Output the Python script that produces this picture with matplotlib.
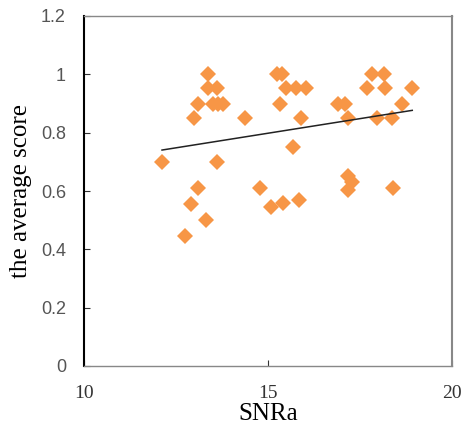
import numpy as np
import matplotlib
matplotlib.use("Agg")
import matplotlib.pyplot as plt

# SNRa vs average score
snra = [12.12, 12.75, 12.92, 13.00, 13.10, 13.11, 13.32, 13.38, 13.36, 13.50,
        13.62, 13.61, 13.65, 13.79, 14.38, 14.79, 15.08, 15.24, 15.38, 15.32,
        15.40, 15.49, 15.67, 15.76, 15.85, 15.91, 16.03, 16.90, 17.09, 17.18,
        17.18, 17.18, 17.29, 17.68, 17.83, 17.95, 18.15, 18.18, 18.38, 18.39,
        18.63, 18.92]
score = [0.70, 0.445, 0.554, 0.852, 0.61, 0.90, 0.499, 1.00, 0.952, 0.90,
         0.952, 0.70, 0.90, 0.90, 0.852, 0.61, 0.545, 1.00, 1.00, 0.90,
         0.56, 0.952, 0.751, 0.952, 0.57, 0.852, 0.952, 0.90, 0.90, 0.852,
         0.651, 0.605, 0.63, 0.952, 1.00, 0.852, 1.00, 0.952, 0.852, 0.61,
         0.90, 0.952]

x_ticks = [10, 15, 20]
y_ticks = [0, 0.2, 0.4, 0.6, 0.8, 1, 1.2]
y_tick_labels = ["0", "0.2", "0.4", "0.6", "0.8", "1", "1.2"]

fig = plt.figure(figsize=(4.63, 4.28), dpi=100)
ax = fig.add_axes([84 / 463, 62 / 428, (452 - 84) / 463, (366 - 16) / 428])

ax.plot(snra, score, linestyle="none", marker="D", markersize=8.5,
        color="#F79646", markeredgewidth=0, zorder=2)

# linear trendline
coef = np.polyfit(snra, score, 1)
xs = np.array([min(snra), max(snra)])
ax.plot(xs, np.polyval(coef, xs), color="#222222", linewidth=1.1, zorder=3)

ax.set_xlim(10, 20)
ax.set_ylim(0, 1.2)
ax.set_xticks(x_ticks)
ax.set_yticks(y_ticks)
ax.set_yticklabels(y_tick_labels)

ax.tick_params(direction="in", length=4, width=0.8, colors="#333333")
ax.tick_params(axis="x", labelsize=14, pad=14)
ax.tick_params(axis="y", labelsize=13, pad=13)
for lab in ax.get_xticklabels():
    lab.set_family("Liberation Serif")
    lab.set_color("#333333")
for lab in ax.get_yticklabels():
    lab.set_family("Liberation Sans")
    lab.set_color("#555555")

ax.spines["left"].set_color("black")
ax.spines["left"].set_linewidth(1.5)
for s in ["bottom", "top", "right"]:
    ax.spines[s].set_color("#888888")
    ax.spines[s].set_linewidth(1.0)
ax.spines["right"].set_linewidth(1.5)

ax.set_xlabel("SNRa", family="Liberation Serif", fontsize=18)
ax.set_ylabel("the average score", family="Liberation Serif", fontsize=18)
ax.xaxis.set_label_coords(0.5, -0.105)
ax.yaxis.set_label_coords(-0.14, 0.5)

fig.savefig("out.png", dpi=100, facecolor="white")
